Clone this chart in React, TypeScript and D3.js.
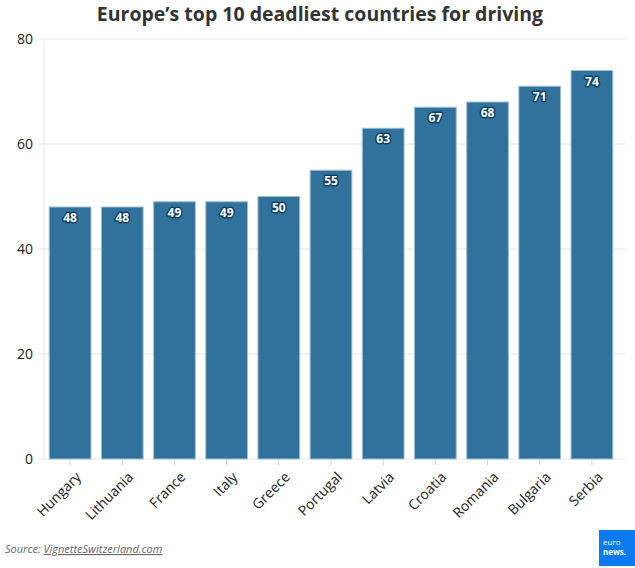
import React, { useRef, useEffect } from 'react';
import * as d3 from 'd3';

const WIDTH = 635;
const HEIGHT = 568;
const FONT = '"Open Sans", "Noto Sans", sans-serif';

const countries = [
  'Hungary', 'Lithuania', 'France', 'Italy', 'Greece', 'Portugal',
  'Latvia', 'Croatia', 'Romania', 'Bulgaria', 'Serbia',
];
const deaths = [48, 48, 49, 49, 50, 55, 63, 67, 68, 71, 74];
const yTicks = [0, 20, 40, 60, 80];

const TITLE = 'Europe’s top 10 deadliest countries for driving';
const SOURCE_PREFIX = 'Source: ';
const SOURCE_LINK = 'VignetteSwitzerland.com';

const BAR = '#31729d';

const App: React.FC = () => {
  const svgRef = useRef<SVGSVGElement>(null);

  useEffect(() => {
    if (!svgRef.current) return;
    const svg = d3.select(svgRef.current);
    svg.selectAll('*').remove();

    const left = 44;
    const right = 618;
    const top = 39;
    const bottom = 459;

    const x = d3.scaleBand<string>()
      .domain(countries)
      .range([left, right])
      .paddingInner(0.2)
      .paddingOuter(0.1);
    const y = d3.scaleLinear().domain([0, 80]).range([bottom, top]);

    // title
    svg.append('text')
      .attr('x', 320)
      .attr('y', 21)
      .attr('text-anchor', 'middle')
      .attr('font-family', FONT)
      .attr('font-weight', 'bold')
      .attr('font-size', '19.5px')
      .attr('fill', '#333333')
      .text(TITLE);

    // gridlines + y ticks
    const grid = svg.append('g');
    yTicks.forEach((t) => {
      grid.append('line')
        .attr('x1', left - 6)
        .attr('x2', 625)
        .attr('y1', y(t))
        .attr('y2', y(t))
        .attr('stroke', '#e6e6e6')
        .attr('stroke-width', 1);
      grid.append('text')
        .attr('x', 33)
        .attr('y', y(t))
        .attr('dy', '0.36em')
        .attr('text-anchor', 'end')
        .attr('font-family', FONT)
        .attr('font-size', '14px')
        .attr('fill', '#222')
        .text(t);
    });
    grid.append('line')
      .attr('x1', left)
      .attr('x2', left)
      .attr('y1', top)
      .attr('y2', bottom)
      .attr('stroke', '#e6e6e6');

    // bars
    svg.append('g')
      .selectAll('rect')
      .data(countries)
      .join('rect')
      .attr('x', (d) => x(d) ?? 0)
      .attr('y', (_, i) => y(deaths[i]))
      .attr('width', x.bandwidth())
      .attr('height', (_, i) => bottom - y(deaths[i]))
      .attr('fill', BAR)
      .attr('stroke', '#9ec0d6')
      .attr('stroke-width', 1);

    // value labels
    svg.append('g')
      .selectAll('text')
      .data(countries)
      .join('text')
      .attr('x', (d) => (x(d) ?? 0) + x.bandwidth() / 2)
      .attr('y', (_, i) => y(deaths[i]) + 15)
      .attr('text-anchor', 'middle')
      .attr('font-family', FONT)
      .attr('font-weight', 'bold')
      .attr('font-size', '12px')
      .attr('fill', '#ffffff')
      .attr('stroke', '#0b3f68')
      .attr('stroke-width', 3)
      .attr('stroke-linejoin', 'round')
      .attr('paint-order', 'stroke')
      .text((_, i) => deaths[i]);

    // x ticks + labels
    const xAxis = svg.append('g');
    countries.forEach((c) => {
      const cx = (x(c) ?? 0) + x.bandwidth() / 2;
      xAxis.append('line')
        .attr('x1', cx)
        .attr('x2', cx)
        .attr('y1', bottom)
        .attr('y2', bottom + 6)
        .attr('stroke', '#d8d8d8');
      xAxis.append('text')
        .attr('transform', `translate(${cx + 5},${bottom + 12}) rotate(-45)`)
        .attr('text-anchor', 'end')
        .attr('dy', '0.7em')
        .attr('font-family', FONT)
        .attr('font-size', '14px')
        .attr('fill', '#222')
        .text(c);
    });

    // source
    const src = svg.append('text')
      .attr('x', 5)
      .attr('y', 553)
      .attr('font-family', FONT)
      .attr('font-style', 'italic')
      .attr('font-size', '11px')
      .attr('fill', '#666666');
    src.append('tspan').text(SOURCE_PREFIX);
    src.append('tspan').attr('text-decoration', 'underline').text(SOURCE_LINK);

    // logo
    const logo = svg.append('g').attr('transform', 'translate(599,530)');
    logo.append('rect').attr('width', 36).attr('height', 36).attr('fill', '#0c7bf0');
    logo.append('text')
      .attr('x', 4).attr('y', 15)
      .attr('font-family', FONT)
      .attr('font-size', '8px')
      .attr('fill', '#ffffff')
      .text('euro');
    logo.append('text')
      .attr('x', 4).attr('y', 25)
      .attr('font-family', FONT)
      .attr('font-weight', 'bold')
      .attr('font-size', '8px')
      .attr('fill', '#ffffff')
      .text('news.');
  }, []);

  return (
    <svg
      ref={svgRef}
      width={WIDTH}
      height={HEIGHT}
      style={{ position: 'absolute', left: 0, top: 0, background: '#fff' }}
    />
  );
};

export default App;
